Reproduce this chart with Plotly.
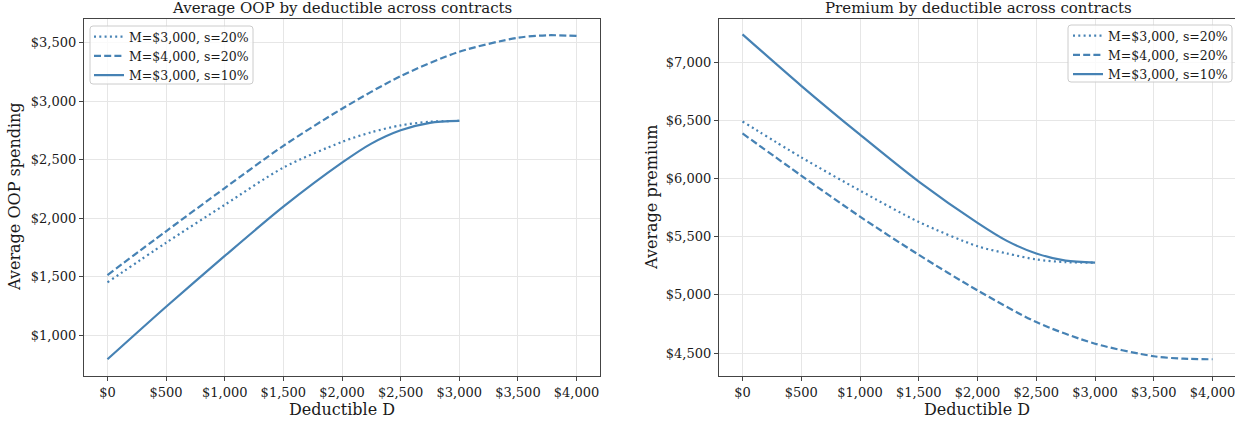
import plotly.graph_objects as go

# ---------------- data ----------------
series_names = ["M=$3,000, s=20%", "M=$4,000, s=20%", "M=$3,000, s=10%"]

# Left panel: average OOP spending
oop_d_m3s20 = [0, 500, 1000, 1500, 2000, 2250, 2500, 2750, 3000]
oop_m3s20 = [1451, 1790, 2114, 2432, 2652, 2734, 2793, 2824, 2831]

oop_d_m4s20 = [0, 500, 1000, 1500, 2000, 2500, 3000, 3500, 3750, 4000]
oop_m4s20 = [1514, 1888, 2257, 2618, 2935, 3214, 3422, 3542, 3563, 3557]

oop_d_m3s10 = [0, 500, 1000, 1500, 2000, 2250, 2500, 2750, 3000]
oop_m3s10 = [794, 1243, 1677, 2098, 2474, 2637, 2751, 2815, 2831]

# Right panel: average premium
prem_d_m3s20 = [0, 500, 1000, 1500, 2000, 2250, 2500, 2750, 3000]
prem_m3s20 = [6493, 6184, 5898, 5628, 5419, 5357, 5305, 5282, 5278]

prem_d_m4s20 = [0, 500, 1000, 1500, 2000, 2500, 3000, 3500, 3750, 4000]
prem_m4s20 = [6390, 6027, 5674, 5345, 5039, 4766, 4580, 4472, 4451, 4446]

prem_d_m3s10 = [0, 500, 1000, 1500, 2000, 2250, 2500, 2750, 3000]
prem_m3s10 = [7243, 6800, 6379, 5975, 5620, 5465, 5357, 5295, 5278]

x_ticks = [0, 500, 1000, 1500, 2000, 2500, 3000, 3500, 4000]
oop_ticks = [1000, 1500, 2000, 2500, 3000, 3500]
prem_ticks = [4500, 5000, 5500, 6000, 6500, 7000]

titles = ["Average OOP by deductible across contracts", "Premium by deductible across contracts"]
x_title = "Deductible D"
y_titles = ["Average OOP spending", "Average premium"]


def money(vals):
    return ["$" + format(v, ",") for v in vals]


# ---------------- style ----------------
W, H = 1235, 423
COLOR = "#4682B4"
FONT = "DejaVu Serif"
TXT = "#1a1a1a"
dashes = ["2px,3.3px", "7px,3.2px", "solid"]


def px_x(p):
    return p / W


def px_y(p):
    return 1 - p / H


fig = go.Figure()

left_sets = [(oop_d_m3s20, oop_m3s20), (oop_d_m4s20, oop_m4s20), (oop_d_m3s10, oop_m3s10)]
right_sets = [(prem_d_m3s20, prem_m3s20), (prem_d_m4s20, prem_m4s20), (prem_d_m3s10, prem_m3s10)]

for i, (xs, ys) in enumerate(left_sets):
    fig.add_trace(go.Scatter(x=xs, y=ys, mode="lines", name=series_names[i],
                             line=dict(color=COLOR, width=2.2, dash=dashes[i], shape="spline", smoothing=0.8),
                             xaxis="x", yaxis="y", legend="legend"))
for i, (xs, ys) in enumerate(right_sets):
    fig.add_trace(go.Scatter(x=xs, y=ys, mode="lines", name=series_names[i],
                             line=dict(color=COLOR, width=2.2, dash=dashes[i], shape="spline", smoothing=0.8),
                             xaxis="x2", yaxis="y2", legend="legend2"))

top_px, bot_px = 19, 376
ydom = [px_y(bot_px), px_y(top_px)]

axis_common = dict(
    showgrid=True, gridcolor="#e6e6e6", gridwidth=1,
    showline=True, linecolor="#444444", linewidth=1.3,
    ticks="outside", ticklen=4, tickcolor="#444444", tickwidth=1,
    tickfont=dict(family=FONT, size=13, color=TXT),
    zeroline=False, tickmode="array", ticklabeloverflow="allow",
)

legend_common = dict(xanchor="left", yanchor="top", bgcolor="rgba(0,0,0,0)", borderwidth=0,
                     font=dict(family=FONT, size=12.5, color=TXT), tracegroupgap=0)

fig.update_layout(
    width=W, height=H,
    margin=dict(l=0, r=0, t=0, b=0, autoexpand=False),
    paper_bgcolor="white", plot_bgcolor="white",
    showlegend=True,
    xaxis=dict(domain=[px_x(84), px_x(600)], range=[-200, 4200],
               tickvals=x_ticks, ticktext=money(x_ticks),
               mirror=True, anchor="y", **axis_common),
    yaxis=dict(domain=ydom, range=[651, 3702],
               tickvals=oop_ticks, ticktext=money(oop_ticks),
               mirror=True, anchor="x", **axis_common),
    xaxis2=dict(domain=[px_x(719), 1.0], range=[-200, 4191],
                tickvals=x_ticks, ticktext=money(x_ticks),
                mirror=True, anchor="y2", **axis_common),
    yaxis2=dict(domain=ydom, range=[4302, 7375],
                tickvals=prem_ticks, ticktext=money(prem_ticks),
                mirror=False, anchor="x2", **axis_common),
    legend=dict(x=px_x(89), y=px_y(22), **legend_common),
    legend2=dict(x=px_x(1068), y=px_y(21), **legend_common),
)


def rounded_box(x0, y0, x1, y1, r=3):
    pts = [
        f"M {px_x(x0 + r)},{px_y(y0)}",
        f"L {px_x(x1 - r)},{px_y(y0)}",
        f"Q {px_x(x1)},{px_y(y0)} {px_x(x1)},{px_y(y0 + r)}",
        f"L {px_x(x1)},{px_y(y1 - r)}",
        f"Q {px_x(x1)},{px_y(y1)} {px_x(x1 - r)},{px_y(y1)}",
        f"L {px_x(x0 + r)},{px_y(y1)}",
        f"Q {px_x(x0)},{px_y(y1)} {px_x(x0)},{px_y(y1 - r)}",
        f"L {px_x(x0)},{px_y(y0 + r)}",
        f"Q {px_x(x0)},{px_y(y0)} {px_x(x0 + r)},{px_y(y0)}",
        "Z",
    ]
    return dict(type="path", path=" ".join(pts), xref="paper", yref="paper",
                fillcolor="rgba(255,255,255,0.8)", line=dict(color="#cccccc", width=1),
                layer="above")


fig.update_layout(shapes=[rounded_box(90, 26, 253, 84), rounded_box(1068, 25, 1232, 82)])


def label(text, x, y, size, angle=0):
    return dict(text=text, x=px_x(x), y=px_y(y), xref="paper", yref="paper",
                xanchor="center", yanchor="middle", showarrow=False, textangle=angle,
                font=dict(family=FONT, size=size, color=TXT))


ann = [
    label(titles[0], 342, 8, 15),
    label(titles[1], 978, 8, 15),
    label(x_title, 342, 409, 16),
    label(x_title, 977, 409, 16),
    label(y_titles[0], 14, 197, 16, -90),
    label(y_titles[1], 651, 197, 16, -90),
]
fig.update_layout(annotations=ann)

fig.write_html("out.html", config={"displayModeBar": False},
               post_script="document.body.style.margin='0px';")
